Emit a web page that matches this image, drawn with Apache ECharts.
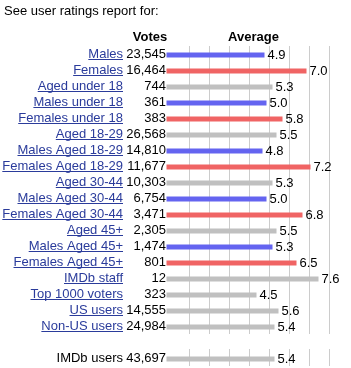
<!DOCTYPE html>
<html>
<head>
<meta charset="utf-8">
<script src="https://cdn.jsdelivr.net/npm/echarts@6/dist/echarts.min.js"></script>
<style>
html,body{margin:0;padding:0;background:#fff;}
#chart{width:351px;height:368px;}
</style>
</head>
<body>
<div id="chart"></div>
<script>
const categories = ['Males','Females','Aged under 18','Males under 18','Females under 18','Aged 18-29','Males Aged 18-29','Females Aged 18-29','Aged 30-44','Males Aged 30-44','Females Aged 30-44','Aged 45+','Males Aged 45+','Females Aged 45+','IMDb staff','Top 1000 voters','US users','Non-US users','','IMDb users'];
const votes = [23545,16464,744,361,383,26568,14810,11677,10303,6754,3471,2305,1474,801,12,323,14555,24984,null,43697];
const averages = [4.9,7.0,5.3,5.0,5.8,5.5,4.8,7.2,5.3,5.0,6.8,5.5,5.3,6.5,7.6,4.5,5.6,5.4,null,5.4];
const groups = ['m','f','a','m','f','a','m','f','a','m','f','a','m','f','a','a','a','a','','a'];
const isLink = [true,true,true,true,true,true,true,true,true,true,true,true,true,true,true,true,true,true,false,false];
const headerTitle = 'See user ratings report for:';
const colHeaders = ['Votes','Average'];

const groupColors = {m:'#6464f0', f:'#f06464', a:'#c0c0c0', '':'#c0c0c0'};
const FONT = '13px "Liberation Sans", Arial, sans-serif';
const LINK = '#2a3b9b';

const mctx = document.createElement('canvas').getContext('2d');
mctx.font = FONT;

const chart = echarts.init(document.getElementById('chart'), null, {renderer:'canvas'});

const gridAxisX = (gi) => ({
  gridIndex: gi, type:'value', min:0, max:8, interval:1,
  axisLine:{show:false}, axisTick:{show:false}, axisLabel:{show:false},
  splitLine:{show:true, showMinLine:false, showMaxLine:true, lineStyle:{color:'#cccccc', width:1}}
});
const hiddenY = (gi) => ({gridIndex: gi, type:'value', min:0, max:1, show:false, splitLine:{show:false}});

const option = {
  animation:false,
  textStyle:{fontFamily:'"Liberation Sans", Arial, sans-serif'},
  grid:[
    {left:166.5, top:47, width:200, height:320, outerBoundsMode:'none', containLabel:false},
    {left:169, top:46, width:160, height:288, outerBoundsMode:'none', containLabel:false},
    {left:169, top:349, width:160, height:17, outerBoundsMode:'none', containLabel:false}
  ],
  xAxis:[
    {gridIndex:0, type:'value', min:0, max:10, show:false, splitLine:{show:false}},
    gridAxisX(1),
    gridAxisX(2)
  ],
  yAxis:[
    {gridIndex:0, type:'category', data:categories, inverse:true, show:false},
    hiddenY(1),
    hiddenY(2)
  ],
  graphic:[
    {type:'text', left:4, top:5, style:{text:headerTitle, font:FONT, fill:'#000'}},
    {type:'text', x:150, y:37, style:{text:colHeaders[0], font:'bold 13px "Liberation Sans", Arial, sans-serif', fill:'#000', align:'center', verticalAlign:'middle'}},
    {type:'text', x:253.5, y:37, style:{text:colHeaders[1], font:'bold 13px "Liberation Sans", Arial, sans-serif', fill:'#000', align:'center', verticalAlign:'middle'}}
  ],
  series:[
    {
      type:'bar', xAxisIndex:0, yAxisIndex:0, barWidth:5, z:3,
      data: averages.map((v,i)=> v==null ? null : {value:v, itemStyle:{color:groupColors[groups[i]]}}),
      label:{show:true, position:'right', distance:3, color:'#000', fontSize:13,
        fontFamily:'"Liberation Sans", Arial, sans-serif',
        formatter:(p)=> p.value==null ? '' : Number(p.value).toFixed(1)}
    },
    {
      type:'custom', xAxisIndex:0, yAxisIndex:0, clip:false, z:4, silent:true,
      data: categories.map((c,i)=>[0,i]),
      renderItem:(params, api)=>{
        const i = api.value(1);
        const p = api.coord([0, i]);
        const x0 = p[0], y = p[1] - 1;
        const children = [];
        const name = categories[i];
        if (name) {
          const nx = x0 - 43.5;
          children.push({type:'text', style:{text:name, x:nx, y:y, align:'right', verticalAlign:'middle', font:FONT, fill: isLink[i] ? LINK : '#000'}});
          if (isLink[i]) {
            const w = mctx.measureText(name).width;
            children.push({type:'rect', shape:{x:nx - w, y:y + 5, width:w, height:1}, style:{fill:LINK}});
          }
        }
        if (votes[i] != null) {
          children.push({type:'text', style:{text:votes[i].toLocaleString('en-US'), x:x0 - 0.5, y:y, align:'right', verticalAlign:'middle', font:FONT, fill:'#000'}});
        }
        return {type:'group', children};
      }
    }
  ]
};
chart.setOption(option);
</script>
</body>
</html>
